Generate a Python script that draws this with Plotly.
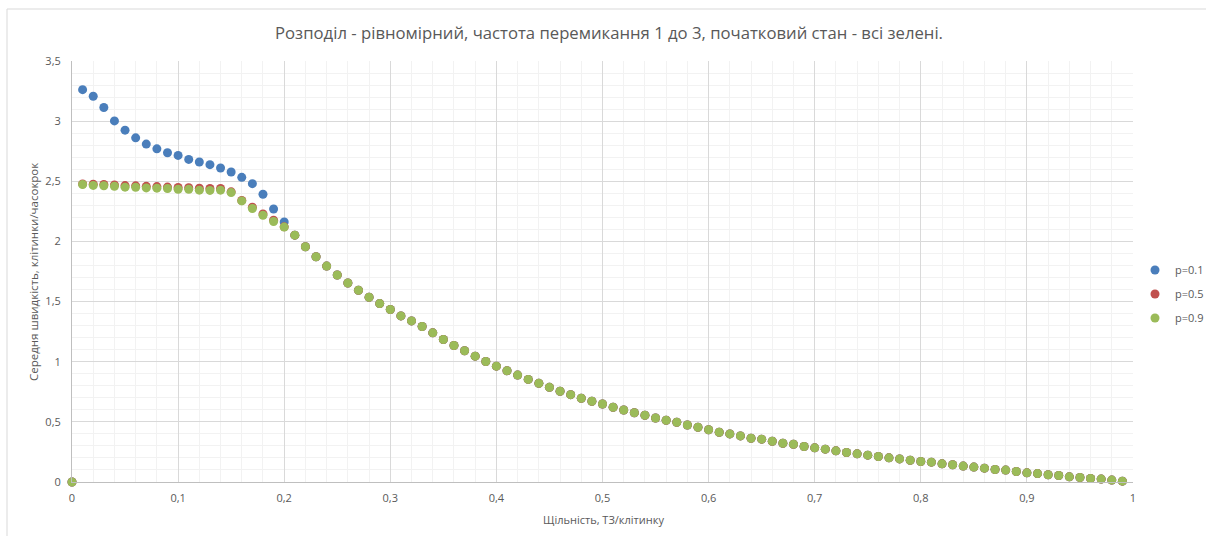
import plotly.graph_objects as go

# Density values (vehicles per cell)
density = [round(i * 0.01, 2) for i in range(100)]

# Mean speed at low density, where the three switching probabilities differ (0.00 .. 0.20)
speed_p01_head = [0, 3.262, 3.207, 3.113, 3.002, 2.925, 2.861, 2.809, 2.770, 2.737, 2.715,
                  2.682, 2.660, 2.638, 2.610, 2.577, 2.533, 2.480, 2.392, 2.270, 2.162]
speed_p05_head = [0, 2.478, 2.476, 2.474, 2.470, 2.464, 2.462, 2.458, 2.456, 2.452, 2.448,
                  2.446, 2.442, 2.440, 2.440, 2.412, 2.340, 2.285, 2.228, 2.177, 2.121]
speed_p09_head = [0, 2.473, 2.466, 2.463, 2.459, 2.451, 2.450, 2.445, 2.443, 2.440, 2.434,
                  2.433, 2.426, 2.424, 2.426, 2.406, 2.337, 2.274, 2.218, 2.166, 2.119]

# Common congested branch (0.21 .. 0.99)
speed_tail = [2.052, 1.956, 1.873, 1.795, 1.721, 1.654, 1.594, 1.536, 1.483, 1.434,
              1.381, 1.339, 1.293, 1.240, 1.185, 1.135, 1.091, 1.046, 1.002, 0.963,
              0.925, 0.889, 0.853, 0.820, 0.787, 0.754, 0.726, 0.696, 0.671, 0.648,
              0.621, 0.599, 0.576, 0.555, 0.532, 0.513, 0.497, 0.474, 0.455, 0.434,
              0.414, 0.400, 0.383, 0.364, 0.356, 0.339, 0.322, 0.314, 0.295, 0.284,
              0.273, 0.259, 0.245, 0.234, 0.223, 0.212, 0.201, 0.192, 0.181, 0.170,
              0.165, 0.151, 0.143, 0.132, 0.124, 0.115, 0.104, 0.099, 0.087, 0.076,
              0.070, 0.060, 0.054, 0.043, 0.037, 0.029, 0.024, 0.016, 0.007]

series_names = ["p=0.1", "p=0.5", "p=0.9"]
series_colors = ["#4A7EBB", "#C0504D", "#9BBB59"]
series_values = [speed_p01_head + speed_tail,
                 speed_p05_head + speed_tail,
                 speed_p09_head + speed_tail]

title_text = "Розподіл - рівномірний, частота перемикання 1 до 3, початковий стан - всі зелені."
x_title = "Щільність, ТЗ/клітинку"
y_title = "Середня швидкість, клітинки/часокрок"

FONT = "Open Sans"
GREY = "#595959"

fig = go.Figure()
for name, color, vals in zip(series_names, series_colors, series_values):
    fig.add_trace(go.Scatter(
        x=density, y=vals, mode="markers", name=name, legendgroup=name,
        cliponaxis=False,
        marker=dict(size=9, color=color, line=dict(width=0)),
    ))

W, H = 1206, 536
L, R, T, B = 72, 73, 61, 54
pw, ph = W - L - R, H - T - B

def px_x(p):
    return (p - L) / pw

def px_y(p):
    return (H - B - p) / ph

fig.update_layout(
    width=W, height=H,
    margin=dict(l=L, r=R, t=T, b=B, autoexpand=False),
    paper_bgcolor="white", plot_bgcolor="white",
    separators=", ",
    font=dict(family=FONT, color=GREY, size=11),
    title=dict(text=title_text, x=0.505, xref="container", y=1 - 33 / H, yanchor="middle",
               xanchor="center", font=dict(family=FONT, size=16.7, color=GREY)),
    showlegend=True,
    legend=dict(x=px_x(1135), y=px_y(294), xanchor="left", yanchor="middle",
                font=dict(family=FONT, size=11, color=GREY), tracegroupgap=5,
                itemwidth=30, bgcolor="rgba(0,0,0,0)"),
    xaxis=dict(range=[0, 1], dtick=0.1, tick0=0, showgrid=True, gridcolor="#D9D9D9",
               gridwidth=1, minor=dict(dtick=0.02, showgrid=True, gridcolor="#F2F2F2"),
               zeroline=False, showline=True, linecolor="#BFBFBF", linewidth=1,
               ticks="", ticklabelstandoff=6,
               tickfont=dict(family=FONT, size=11, color=GREY)),
    yaxis=dict(range=[0, 3.5], dtick=0.5, tick0=0, showgrid=True, gridcolor="#D9D9D9",
               gridwidth=1, minor=dict(dtick=0.1, showgrid=True, gridcolor="#F2F2F2"),
               zeroline=False, showline=True, linecolor="#BFBFBF", linewidth=1,
               ticks="", ticklabelstandoff=8,
               tickfont=dict(family=FONT, size=11, color=GREY)),
    annotations=[
        dict(text=x_title, x=px_x(603), y=px_y(519), xref="paper", yref="paper",
             showarrow=False, xanchor="center", yanchor="middle",
             font=dict(family=FONT, size=11, color=GREY)),
        dict(text=y_title, x=px_x(33), y=px_y(272), xref="paper", yref="paper",
             showarrow=False, xanchor="center", yanchor="middle", textangle=-90,
             font=dict(family=FONT, size=11.5, color=GREY)),
    ],
    shapes=[
        dict(type="rect", xref="paper", yref="paper",
             x0=px_x(7), x1=px_x(1230), y0=px_y(560), y1=px_y(9),
             line=dict(color="#D9D9D9", width=1), fillcolor="rgba(0,0,0,0)", layer="below"),
    ],
)

fig.write_html("out.html")
